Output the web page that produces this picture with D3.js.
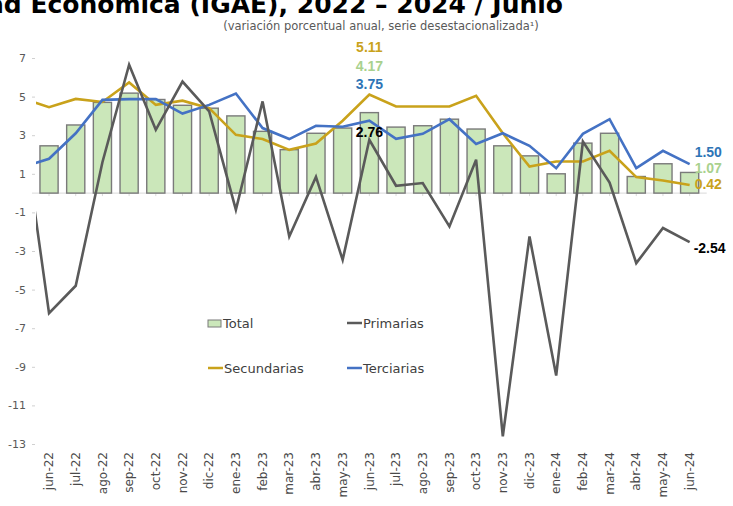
<!DOCTYPE html>
<html>
<head>
<meta charset="utf-8">
<script src="https://cdn.jsdelivr.net/npm/d3@7"></script>
<style>
  html, body { margin: 0; padding: 0; background: #fff; }
  svg { display: block; font-family: "DejaVu Sans", sans-serif; }
</style>
</head>
<body>
<svg id="chart"></svg>
<script>
// meses del eje (jun-22 a jun-24)
const months = ['jun-22','jul-22','ago-22','sep-22','oct-22','nov-22','dic-22','ene-23','feb-23','mar-23','abr-23','may-23',
  'jun-23','jul-23','ago-23','sep-23','oct-23','nov-23','dic-23','ene-24','feb-24','mar-24','abr-24','may-24','jun-24'];
// mes previo, solo se ve el arranque de las líneas en el borde izquierdo
const prevMonth = 'may-22';

// Total (barras), jun-22 .. jun-24
const total = [2.45, 3.53, 4.70, 5.18, 4.85, 4.55, 4.40, 4.00, 3.20, 2.25, 3.10, 3.37,
  4.17, 3.42, 3.49, 3.83, 3.32, 2.45, 1.93, 1.00, 2.59, 3.10, 0.86, 1.52, 1.07];
// líneas, may-22 .. jun-24
const primarias = [3.68, -6.22, -4.80, 1.60, 6.65, 3.28, 5.78, 4.23, -0.86, 4.75, -2.25, 0.84, -3.46,
  2.76, 0.38, 0.52, -1.73, 1.73, -12.60, -2.25, -9.45, 2.67, 0.55, -3.63, -1.81, -2.54];
const secundarias = [4.90, 4.45, 4.88, 4.72, 5.73, 4.57, 4.79, 4.40, 3.02, 2.80, 2.24, 2.57, 3.75,
  5.11, 4.49, 4.49, 4.49, 5.04, 3.10, 1.38, 1.64, 1.64, 2.19, 0.83, 0.65, 0.42];
const terciarias = [1.33, 1.78, 3.10, 4.83, 4.87, 4.87, 4.12, 4.57, 5.16, 3.37, 2.80, 3.49, 3.44,
  3.75, 2.81, 3.07, 3.83, 2.55, 3.10, 2.45, 1.29, 3.07, 3.83, 1.29, 2.19, 1.50];

const yTicks = [7, 5, 3, 1, -1, -3, -5, -7, -9, -11, -13];

const width = 733, height = 506;
const colors = { total: '#cbe7ba', totalStroke: '#7a7a7a', prim: '#5a5a5a', sec: '#c9a21b', ter: '#4472c4',
  totalLabel: '#a9d18e', terLabel: '#2e75b6' };

const svg = d3.select('#chart').attr('width', width).attr('height', height);

// títulos (el título queda cortado arriba, como en la imagen)
svg.append('text')
  .attr('x', 563).attr('y', 13)
  .attr('text-anchor', 'end')
  .style('font-size', '25px').style('font-weight', 'bold').style('fill', '#000')
  .text('Indicador Global de la Actividad Económica (IGAE), 2022 – 2024 / Junio');

svg.append('text')
  .attr('x', 381).attr('y', 30)
  .attr('text-anchor', 'middle')
  .style('font-size', '11.5px').style('fill', '#595959')
  .text('(variación porcentual anual, serie desestacionalizada¹)');

// escalas
const lineMonths = [prevMonth, ...months];
const x = d3.scaleBand()
  .domain(lineMonths)
  .range([9, 703])
  .paddingInner(0.32)
  .paddingOuter(0.16);
const cx = m => x(m) + x.bandwidth() / 2;

const y = d3.scaleLinear().domain([-13, 7]).range([444, 58]);

// eje Y
const yAxis = svg.append('g')
  .attr('transform', 'translate(35,0)')
  .call(d3.axisLeft(y).tickValues(yTicks).tickSize(3).tickPadding(6).tickFormat(d => String(d)));
yAxis.select('.domain').remove();
yAxis.selectAll('line').attr('stroke', '#d0d0d0');
yAxis.selectAll('text').style('font-size', '11px').style('fill', '#595959').style('font-family', '"DejaVu Sans", sans-serif');

// línea del cero con marcas
const zeroAxis = svg.append('g')
  .attr('transform', `translate(0,${y(0)})`)
  .call(d3.axisBottom(x).tickValues(months).tickSize(3).tickFormat(''));
zeroAxis.select('.domain').attr('stroke', '#d9d9d9').attr('d', `M${x(months[0]) - 8},0H${x(months[months.length - 1]) + x.bandwidth() + 8}`);
zeroAxis.selectAll('line').attr('stroke', '#d9d9d9');

// etiquetas del eje X
const xAxis = svg.append('g')
  .attr('transform', `translate(0,${y(-13) + 8})`)
  .call(d3.axisBottom(x).tickValues(months).tickSize(0));
xAxis.select('.domain').remove();
xAxis.selectAll('text')
  .attr('transform', 'rotate(-90)')
  .attr('text-anchor', 'end')
  .attr('x', 0).attr('y', 0).attr('dy', '0.35em')
  .style('font-size', '12px').style('fill', '#4a4a4a').style('font-family', '"DejaVu Sans", sans-serif');

// barras Total
svg.append('g').selectAll('rect')
  .data(months)
  .join('rect')
  .attr('x', m => x(m))
  .attr('width', x.bandwidth())
  .attr('y', (m, i) => y(Math.max(0, total[i])))
  .attr('height', (m, i) => Math.abs(y(total[i]) - y(0)))
  .attr('fill', colors.total)
  .attr('stroke', colors.totalStroke)
  .attr('stroke-width', 1.4);

// recorte de líneas en el borde izquierdo
svg.append('clipPath').attr('id', 'plotClip')
  .append('rect').attr('x', 36).attr('y', 0).attr('width', width - 36).attr('height', height);

const line = d3.line()
  .x((d, i) => cx(lineMonths[i]))
  .y(d => y(d));

const lines = svg.append('g').attr('clip-path', 'url(#plotClip)');
[[secundarias, colors.sec], [terciarias, colors.ter], [primarias, colors.prim]].forEach(([vals, c]) => {
  lines.append('path')
    .datum(vals)
    .attr('d', line)
    .attr('fill', 'none')
    .attr('stroke', c)
    .attr('stroke-width', 2.6)
    .attr('stroke-linejoin', 'miter');
});

// etiquetas de valores
const labelFont = '"Liberation Sans Narrow", "Liberation Sans", sans-serif';
const fmt = v => v.toFixed(2);
const jun23 = months.indexOf('jun-23');
const last = months.length - 1;

function valueLabel(txt, lx, ly, fill, anchor) {
  svg.append('text')
    .attr('x', lx).attr('y', ly)
    .attr('text-anchor', anchor)
    .style('font-family', labelFont)
    .style('font-size', '14px').style('font-weight', 'bold')
    .style('fill', fill)
    .text(txt);
}

valueLabel(fmt(secundarias[jun23 + 1]), cx('jun-23'), 52, colors.sec, 'middle');
valueLabel(fmt(total[jun23]), cx('jun-23'), 71, colors.totalLabel, 'middle');
valueLabel(fmt(terciarias[jun23 + 1]), cx('jun-23'), 89, colors.terLabel, 'middle');
valueLabel(fmt(primarias[jun23 + 1]), cx('jun-23'), 137, '#000', 'middle');

const rx = cx('jun-24') + 5;
valueLabel(fmt(terciarias[last + 1]), rx, 157, colors.terLabel, 'start');
valueLabel(fmt(total[last]), rx, 173, colors.totalLabel, 'start');
valueLabel(fmt(secundarias[last + 1]), rx, 189, colors.sec, 'start');
valueLabel(fmt(primarias[last + 1]), rx - 1, 253, '#000', 'start');

// leyenda
const legend = svg.append('g').style('font-size', '13px').style('fill', '#404040');
const legendItems = [
  { name: 'Total', type: 'rect', color: colors.total, lx: 208, ly: 323 },
  { name: 'Primarias', type: 'line', color: colors.prim, lx: 347, ly: 323 },
  { name: 'Secundarias', type: 'line', color: colors.sec, lx: 208, ly: 368 },
  { name: 'Terciarias', type: 'line', color: colors.ter, lx: 347, ly: 368 }
];
legendItems.forEach(item => {
  const g = legend.append('g').attr('transform', `translate(${item.lx},${item.ly})`);
  if (item.type === 'rect') {
    g.append('rect').attr('x', 0).attr('y', -3).attr('width', 13).attr('height', 7)
      .attr('fill', item.color).attr('stroke', colors.totalStroke).attr('stroke-width', 1);
  } else {
    g.append('line').attr('x1', 0).attr('x2', 15).attr('y1', 0).attr('y2', 0)
      .attr('stroke', item.color).attr('stroke-width', 2.5);
  }
  g.append('text').attr('x', item.type === 'rect' ? 15 : 16).attr('y', 5).text(item.name);
});
</script>
</body>
</html>
